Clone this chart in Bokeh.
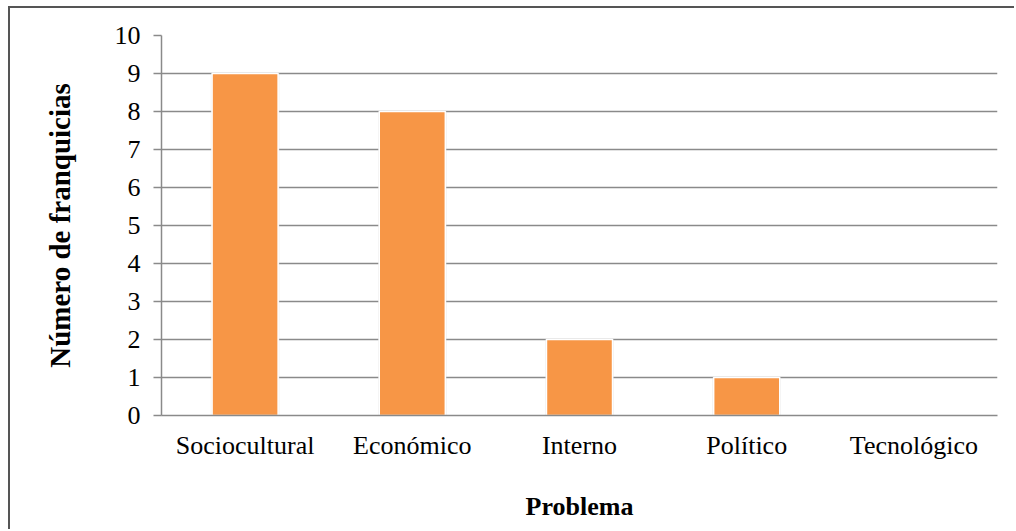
from bokeh.plotting import figure
from bokeh.embed import file_html
from bokeh.resources import INLINE
from bokeh.models import ColumnDataSource, FixedTicker

# Number of franchises per problem type
problemas = ["Sociocultural", "Económico", "Interno", "Político", "Tecnológico"]
franquicias = [9, 8, 2, 1, 0]
y_ticks = [0, 1, 2, 3, 4, 5, 6, 7, 8, 9, 10]

FONT = "Liberation Serif"
GRID = "#8a8a8a"
BAR = "#F79646"

source = ColumnDataSource(data=dict(problema=problemas, n=franquicias))

p = figure(
    x_range=problemas,
    y_range=(0, 10),
    width=1006,
    height=523,
    output_backend="svg",
    toolbar_location=None,
    margin=(6, 0, 0, 8),
    styles={"border-left": "2px solid #555555", "border-top": "2px solid #555555"},
    min_border_left=151,
    min_border_top=27,
    min_border_right=19,
    min_border_bottom=116,
)
p.outline_line_color = None
p.background_fill_color = "white"
p.border_fill_color = "white"

# soft shadow behind each bar
p.vbar(x="problema", top="n", width=0.41, source=source,
       fill_color="#d9d9d9", fill_alpha=0.5, line_color=None)
p.vbar(x="problema", top="n", width=0.395, source=source,
       fill_color=BAR, line_color="white", line_width=1.5)

# grid
p.xgrid.grid_line_color = None
p.ygrid.grid_line_color = GRID
p.ygrid.grid_line_width = 1.5
p.ygrid.ticker = FixedTicker(ticks=y_ticks)

# y axis
p.yaxis.ticker = FixedTicker(ticks=y_ticks)
p.yaxis.axis_label = "Número de franquicias"
p.yaxis.axis_line_color = GRID
p.yaxis.axis_line_width = 1.5
p.yaxis.major_tick_line_color = GRID
p.yaxis.major_tick_line_width = 1.5
p.yaxis.major_tick_out = 8
p.yaxis.major_tick_in = 0
p.yaxis.minor_tick_line_color = None
p.yaxis.major_label_standoff = 13
p.yaxis.axis_label_standoff = 36

# x axis
p.xaxis.axis_label = "Problema"
p.xaxis.axis_line_color = GRID
p.xaxis.axis_line_width = 1.5
p.xaxis.major_tick_line_color = None
p.xaxis.major_tick_out = 0
p.xaxis.major_tick_in = 0
p.xaxis.major_label_standoff = 15
p.xaxis.axis_label_standoff = 29

for ax in (p.xaxis, p.yaxis):
    ax.major_label_text_font = FONT
    ax.major_label_text_font_size = "26px"
    ax.major_label_text_color = "black"
    ax.axis_label_text_font = FONT
    ax.axis_label_text_font_style = "bold"
    ax.axis_label_text_color = "black"

p.xaxis.axis_label_text_font_size = "26px"
p.yaxis.axis_label_text_font_size = "29px"

p.x_range.range_padding = 0

open("out.html", "w").write(file_html(p, INLINE))
